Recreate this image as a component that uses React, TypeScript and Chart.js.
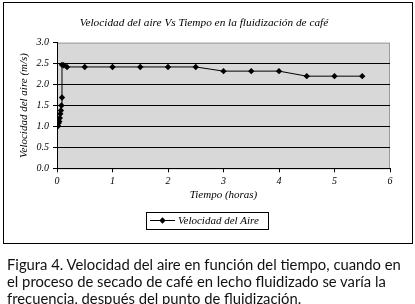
import React, { useEffect, useRef } from "react";
import { Chart, registerables } from "chart.js";

Chart.register(...registerables);

const seriesLabel = "Velocidad del Aire";
const chartTitle = "Velocidad del aire Vs Tiempo en la fluidización de café";
const xTitle = "Tiempo (horas)";
const yTitle = "Velocidad del aire (m/s)";
const timeHours = [0.02, 0.03, 0.04, 0.05, 0.06, 0.07, 0.08, 0.09, 0.09, 0.12, 0.18, 0.5, 1, 1.5, 2, 2.5, 3, 3.5, 4, 4.5, 5, 5.5];
const airSpeed = [1.01, 1.08, 1.12, 1.2, 1.3, 1.38, 1.5, 1.69, 2.47, 2.46, 2.42, 2.42, 2.42, 2.42, 2.42, 2.42, 2.32, 2.32, 2.32, 2.2, 2.2, 2.2];
const caption = [
  "Figura 4. Velocidad del aire en función del tiempo, cuando en",
  "el proceso de secado de café en lecho fluidizado se varía la",
  "frecuencia, después del punto de fluidización.",
];

const serif = "'Liberation Serif', 'DejaVu Serif', serif";

export default function App() {
  const ref = useRef<HTMLCanvasElement | null>(null);

  useEffect(() => {
    if (!ref.current) return;
    const legendPlugin = {
      id: "boxLegend",
      afterDraw(chart: any) {
        const ctx = chart.ctx;
        ctx.save();
        ctx.strokeStyle = "#000";
        ctx.lineWidth = 1;
        ctx.strokeRect(146.5, 212.5, 122, 17);
        ctx.beginPath();
        ctx.moveTo(150, 220.5);
        ctx.lineTo(175, 220.5);
        ctx.stroke();
        ctx.fillStyle = "#000";
        ctx.beginPath();
        const cx = 162.5, cy = 220.5, r = 3.2;
        ctx.moveTo(cx, cy - r);
        ctx.lineTo(cx + r, cy);
        ctx.lineTo(cx, cy + r);
        ctx.lineTo(cx - r, cy);
        ctx.closePath();
        ctx.fill();
        ctx.font = `italic 11px ${serif}`;
        ctx.textBaseline = "middle";
        ctx.fillText(chart.data.datasets[0].label, 178, 221);
        ctx.restore();
      },
    };
    const plotBg = {
      id: "plotBg",
      beforeDraw(chart: any) {
        const { ctx, chartArea: a } = chart;
        ctx.save();
        ctx.fillStyle = "#d8d8d8";
        ctx.fillRect(a.left, a.top, a.right - a.left, a.bottom - a.top);
        ctx.strokeStyle = "#9a9a9a";
        ctx.lineWidth = 1;
        ctx.strokeRect(a.left + 0.5, a.top + 0.5, a.right - a.left - 1, a.bottom - a.top);
        ctx.restore();
      },
    };
    const chart = new Chart(ref.current, {
      type: "line",
      data: {
        datasets: [
          {
            label: seriesLabel,
            data: timeHours.map((x, i) => ({ x, y: airSpeed[i] })),
            borderColor: "#000",
            backgroundColor: "#000",
            borderWidth: 1,
            pointStyle: "rectRot",
            pointRadius: 3.2,
            pointBorderWidth: 0,
            pointBackgroundColor: "#000",
            tension: 0,
          },
        ],
      },
      options: {
        animation: false,
        responsive: false,
        maintainAspectRatio: false,
        layout: { padding: { left: 18, right: 25, top: 0, bottom: 40.7 } },
        plugins: {
          legend: { display: false },
          tooltip: { enabled: false },
          title: {
            display: true,
            text: chartTitle,
            color: "#000",
            font: { family: serif, size: 11.3, style: "italic", weight: "normal" },
            padding: { top: 16, bottom: 13.1 },
          },
        },
        scales: {
          x: {
            type: "linear",
            min: 0,
            max: 6,
            afterFit: (s: any) => { s.height = 35; },
            ticks: {
              stepSize: 1,
              color: "#000",
              padding: 3,
              font: { family: serif, size: 10, style: "italic" },
            },
            grid: { drawOnChartArea: false, drawTicks: true, tickLength: 4, color: "#000" },
            border: { color: "#000", width: 1 },
            title: {
              display: true,
              text: xTitle,
              color: "#000",
              font: { family: serif, size: 11, style: "italic" },
              padding: { top: 0, bottom: 2 },
            },
          },
          y: {
            min: 0,
            max: 3,
            afterFit: (s: any) => { s.width = 39; },
            ticks: {
              stepSize: 0.5,
              color: "#000",
              padding: 4,
              font: { family: serif, size: 10, style: "italic" },
              callback: (v: any) => Number(v).toFixed(1),
            },
            grid: {
              color: (c: any) => (c.tick && c.tick.value >= 3 ? "rgba(0,0,0,0)" : "#000"),
              tickColor: "#000",
              tickLength: 4,
              lineWidth: 1,
            },
            border: { color: "#000", width: 1 },
            title: {
              display: true,
              text: yTitle,
              color: "#000",
              font: { family: serif, size: 11, style: "italic" },
              padding: { top: 0, bottom: 0 },
            },
          },
        },
      },
      plugins: [plotBg, legendPlugin],
    });
    return () => chart.destroy();
  }, []);

  return (
    <div style={{ position: "absolute", left: 0, top: 0, width: 415, height: 304, background: "#fff", overflow: "hidden" }}>
      <canvas ref={ref} width={415} height={244} style={{ position: "absolute", left: 0, top: 0, width: 415, height: 244 }} />
      <div style={{ position: "absolute", left: 3, top: 2, width: 408, height: 240, border: "1px solid #000", pointerEvents: "none" }} />
      <div style={{ position: "absolute", left: 7, top: 256, width: 410, fontFamily: "Lato, 'Open Sans', sans-serif", fontSize: 14.8, lineHeight: "17px", color: "#111", whiteSpace: "nowrap" }}>
        {caption.map((l, i) => (
          <div key={i}>{l}</div>
        ))}
      </div>
    </div>
  );
}
